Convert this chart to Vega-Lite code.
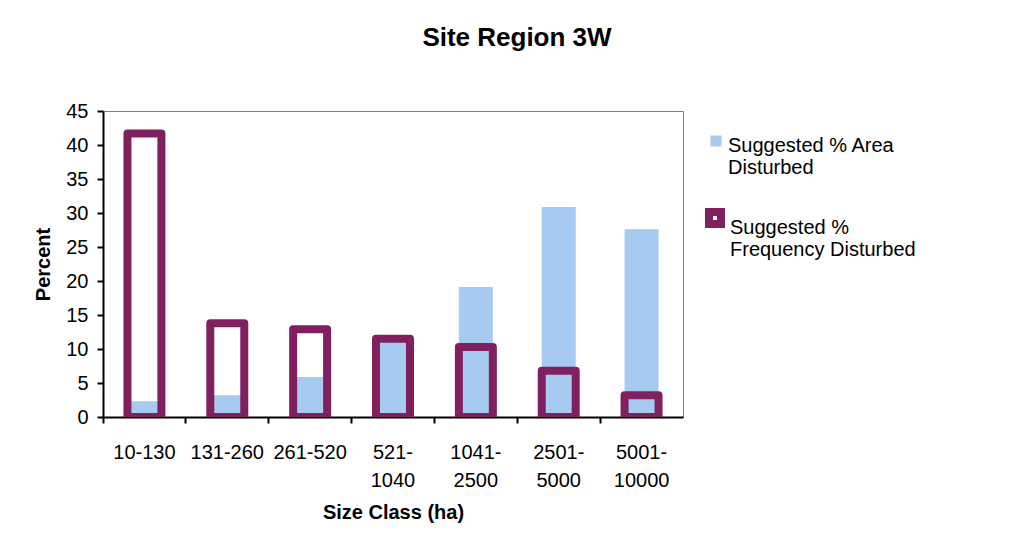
{
  "$schema": "https://vega.github.io/schema/vega-lite/v6.json",
  "width": 580,
  "height": 306,
  "autosize": "none",
  "padding": {"left": 103, "top": 111, "right": 346, "bottom": 131},
  "background": "white",
  "title": {
    "text": "Site Region 3W",
    "font": "Liberation Sans",
    "fontSize": 26,
    "fontWeight": "bold",
    "color": "black",
    "anchor": "middle",
    "baseline": "alphabetic",
    "dx": 124,
    "offset": 29
  },
  "config": {
    "font": "Liberation Sans",
    "view": {"stroke": "#808080", "strokeWidth": 1},
    "axisX": {
      "titleFont": "Liberation Sans",
      "titleFontSize": 20,
      "titleFontWeight": "bold",
      "titleColor": "black",
      "titlePadding": 12,
      "labelAngle": 0,
      "labelFont": "Liberation Sans",
      "labelFontSize": 20,
      "labelColor": "black",
      "labelBaseline": "top",
      "labelPadding": 19,
      "labelLineHeight": 28,
      "bandPosition": 0,
      "labelOverlap": false,
      "labelLimit": 200,
      "domainColor": "black",
      "domainWidth": 2,
      "tickColor": "black",
      "tickWidth": 2,
      "tickSize": 6,
      "grid": false,
      "zindex": 1
    },
    "axisY": {
      "titleFont": "Liberation Sans",
      "titleFontSize": 20,
      "titleFontWeight": "bold",
      "titleColor": "black",
      "titlePadding": 12,
      "labelFont": "Liberation Sans",
      "labelFontSize": 20,
      "labelColor": "black",
      "labelPadding": 9,
      "labelOverlap": false,
      "grid": false,
      "domainColor": "black",
      "domainWidth": 2,
      "tickColor": "black",
      "tickWidth": 2,
      "tickSize": 6,
      "zindex": 1
    }
  },
  "data": {
    "values": [
      {"size": "10-130", "area": 2.3, "freq": 41.7},
      {"size": "131-260", "area": 3.2, "freq": 13.8},
      {"size": "261-520", "area": 5.9, "freq": 12.9},
      {"size": "521-1040", "area": 11.2, "freq": 11.5},
      {"size": "1041-2500", "area": 19.1, "freq": 10.3},
      {"size": "2501-5000", "area": 30.9, "freq": 6.8},
      {"size": "5001-10000", "area": 27.6, "freq": 3.2}
    ]
  },
  "encoding": {
    "x": {
      "field": "size",
      "type": "nominal",
      "sort": null,
      "scale": {"paddingInner": 0, "paddingOuter": 0},
      "axis": {
        "title": "Size Class (ha)",
        "labelExpr": "length(datum.value) <= 7 ? datum.value : [substring(datum.value, 0, indexof(datum.value, '-') + 1), substring(datum.value, indexof(datum.value, '-') + 1)]",
        "encode": {"ticks": {"update": {"y": {"value": -6}}}}
      }
    }
  },
  "layer": [
    {
      "mark": {"type": "bar", "width": {"band": 0.41}},
      "encoding": {
        "y": {
          "field": "area",
          "type": "quantitative",
          "scale": {"domain": [0, 45], "nice": false},
          "axis": {
            "title": "Percent",
            "values": [0, 5, 10, 15, 20, 25, 30, 35, 40, 45],
            "encode": {"ticks": {"update": {"x": {"value": 6}}}}
          }
        },
        "fill": {
          "datum": "Suggested % Area Disturbed",
          "type": "nominal",
          "scale": {"range": ["#A6CAF0"]},
          "legend": {
            "title": null,
            "orient": "none",
            "legendX": 603,
            "legendY": 20,
            "padding": 0,
            "symbolType": "square",
            "symbolSize": 121,
            "symbolStrokeWidth": 0,
            "labelFont": "Liberation Sans",
            "labelFontSize": 20,
            "labelColor": "black",
            "labelLimit": 300,
            "labelBaseline": "top",
            "labelExpr": "['Suggested % Area', 'Disturbed']",
            "labelOffset": 2,
            "encode": {"labels": {"update": {"dy": {"value": -5}}}}
          }
        }
      }
    },
    {
      "mark": {
        "type": "bar",
        "width": {"band": 0.41},
        "fill": "transparent",
        "strokeWidth": 8,
        "strokeJoin": "round",
        "clip": true
      },
      "encoding": {
        "y": {
          "field": "freq",
          "type": "quantitative",
          "axis": {
            "title": "Percent",
            "values": [0, 5, 10, 15, 20, 25, 30, 35, 40, 45],
            "encode": {"ticks": {"update": {"x": {"value": 6}}}}
          }
        },
        "stroke": {
          "datum": "Suggested % Frequency Disturbed",
          "type": "nominal",
          "scale": {"range": ["#80205F"]},
          "legend": {
            "title": null,
            "orient": "none",
            "legendX": 602,
            "legendY": 97,
            "padding": 0,
            "symbolType": "square",
            "symbolSize": 144,
            "symbolStrokeWidth": 8,
            "symbolFillColor": "white",
            "labelFont": "Liberation Sans",
            "labelFontSize": 20,
            "labelColor": "black",
            "labelLimit": 300,
            "labelBaseline": "top",
            "labelExpr": "['Suggested %', 'Frequency Disturbed']",
            "labelOffset": 5,
            "encode": {"labels": {"update": {"dy": {"value": -1}}}}
          }
        }
      }
    }
  ],
  "resolve": {"scale": {"fill": "independent", "stroke": "independent"}}
}
